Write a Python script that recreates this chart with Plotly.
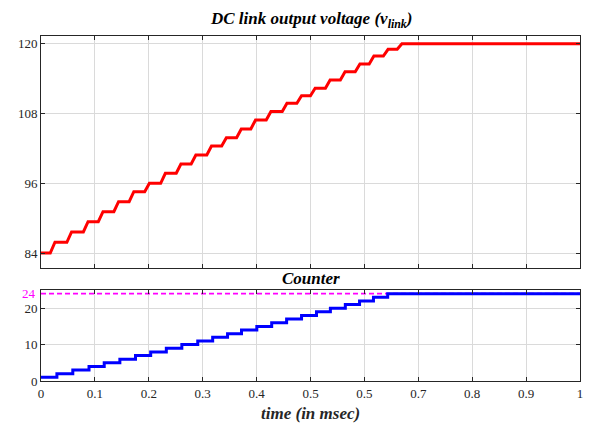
import plotly.graph_objects as go

# ---------------- data ----------------
time_ticks = [0, 0.1, 0.2, 0.3, 0.4, 0.5, 0.6, 0.7, 0.8, 0.9, 1]
time_tick_labels = ["0", "0.1", "0.2", "0.3", "0.4", "0.5", "0.5", "0.7", "0.8", "0.9", "1"]

vlink_ticks = [84, 96, 108, 120]
counter_ticks = [0, 10, 20]

# DC link voltage: start time of each rise (ms) and the plateau levels (V)
vlink_rise_start = [0.0172, 0.0480, 0.0786, 0.1063, 0.1352, 0.1635, 0.1924, 0.2220,
                    0.2509, 0.2786, 0.3076, 0.3352, 0.3629, 0.3893, 0.4179, 0.4476,
                    0.4747, 0.4999, 0.5277, 0.5554, 0.5830, 0.6089, 0.6352, 0.6609]
vlink_levels = [84.0, 85.85, 87.62, 89.39, 91.11, 92.83, 94.55, 96.0, 97.72, 99.32,
                100.87, 102.41, 103.84, 105.34, 106.89, 108.35, 109.76, 111.07,
                112.34, 113.77, 115.19, 116.52, 117.9, 119.05, 120.0]
vlink_rise_duration = 0.0087
t_end = 1.0

# Counter: step times (ms) and counter values
counter_step_times = [0.0295, 0.0590, 0.0891, 0.1173, 0.1463, 0.1753, 0.2035, 0.2325,
                      0.2613, 0.2908, 0.3185, 0.3461, 0.3720, 0.4004, 0.4280, 0.4557,
                      0.4834, 0.5111, 0.5369, 0.5646, 0.5910, 0.6168, 0.6432]
counter_levels = [1, 2, 3, 4, 5, 6, 7, 8, 9, 10, 11, 12, 13, 14, 15, 16, 17, 18, 19,
                  20, 21, 22, 23, 24]
counter_target = 24

# ---------------- build traces ----------------
vx, vy = [0.0], [vlink_levels[0]]
for k, ts in enumerate(vlink_rise_start):
    vx += [ts, ts + vlink_rise_duration]
    vy += [vlink_levels[k], vlink_levels[k + 1]]
vx.append(t_end)
vy.append(vlink_levels[-1])

cx = [0.0] + counter_step_times + [t_end]
cy = counter_levels + [counter_levels[-1]]

FONT = "Liberation Serif, Times New Roman, Times, serif"
AX = "#262626"
GRID = "#dadada"

fig = go.Figure()
fig.add_trace(go.Scatter(x=vx, y=vy, mode="lines", xaxis="x2", yaxis="y",
                         line=dict(color="#ff0000", width=3), showlegend=False))
fig.add_trace(go.Scatter(x=[0, t_end], y=[counter_target, counter_target], mode="lines",
                         xaxis="x", yaxis="y2",
                         line=dict(color="#ff00ff", width=1.6, dash="5px,3px"),
                         showlegend=False))
fig.add_trace(go.Scatter(x=cx, y=cy, mode="lines", xaxis="x", yaxis="y2",
                         line=dict(color="#0000ff", width=3, shape="hv"), showlegend=False))

axis_common = dict(showline=True, linecolor=AX, linewidth=1, mirror="ticks",
                   ticks="inside", ticklen=4, tickcolor=AX, showgrid=True,
                   gridcolor=GRID, gridwidth=1, zeroline=False,
                   tickfont=dict(family=FONT, size=13, color=AX))

fig.update_layout(
    width=591, height=423,
    margin=dict(l=41, r=8, t=36, b=42),
    paper_bgcolor="white", plot_bgcolor="white",
    font=dict(family=FONT),
    xaxis=dict(axis_common, domain=[0, 1], range=[0, 1], anchor="y2",
               tickvals=time_ticks, ticktext=time_tick_labels),
    xaxis2=dict(axis_common, domain=[0, 1], range=[0, 1], anchor="y", matches="x",
                tickvals=time_ticks, showticklabels=False),
    yaxis=dict(axis_common, domain=[0.3267, 1], range=[81.37, 121.34], anchor="x2",
               tickvals=vlink_ticks),
    yaxis2=dict(axis_common, domain=[0, 0.2638], range=[0, 25], anchor="x",
                tickvals=counter_ticks),
    annotations=[
        dict(text="<b><i>DC link output voltage (v<sub>link</sub>)</i></b>",
             xref="paper", yref="paper", x=0.5, y=1, yanchor="bottom", yshift=3,
             showarrow=False, font=dict(family=FONT, size=17, color="black")),
        dict(text="<b><i>Counter</i></b>",
             xref="paper", yref="paper", x=0.5, y=0.2638, yanchor="bottom", yshift=0,
             showarrow=False, font=dict(family=FONT, size=17, color="black")),
        dict(text="<b><i>time (in msec)</i></b>",
             xref="paper", yref="paper", x=0.5, y=0, yanchor="top", yshift=-21,
             showarrow=False, font=dict(family=FONT, size=17, color="#262626")),
        dict(text=str(counter_target), xref="paper", yref="y2", x=0, y=counter_target,
             xanchor="right", xshift=-3, showarrow=False,
             font=dict(family=FONT, size=13, color="#ff00ff")),
    ],
)

fig.write_html("out.html")
